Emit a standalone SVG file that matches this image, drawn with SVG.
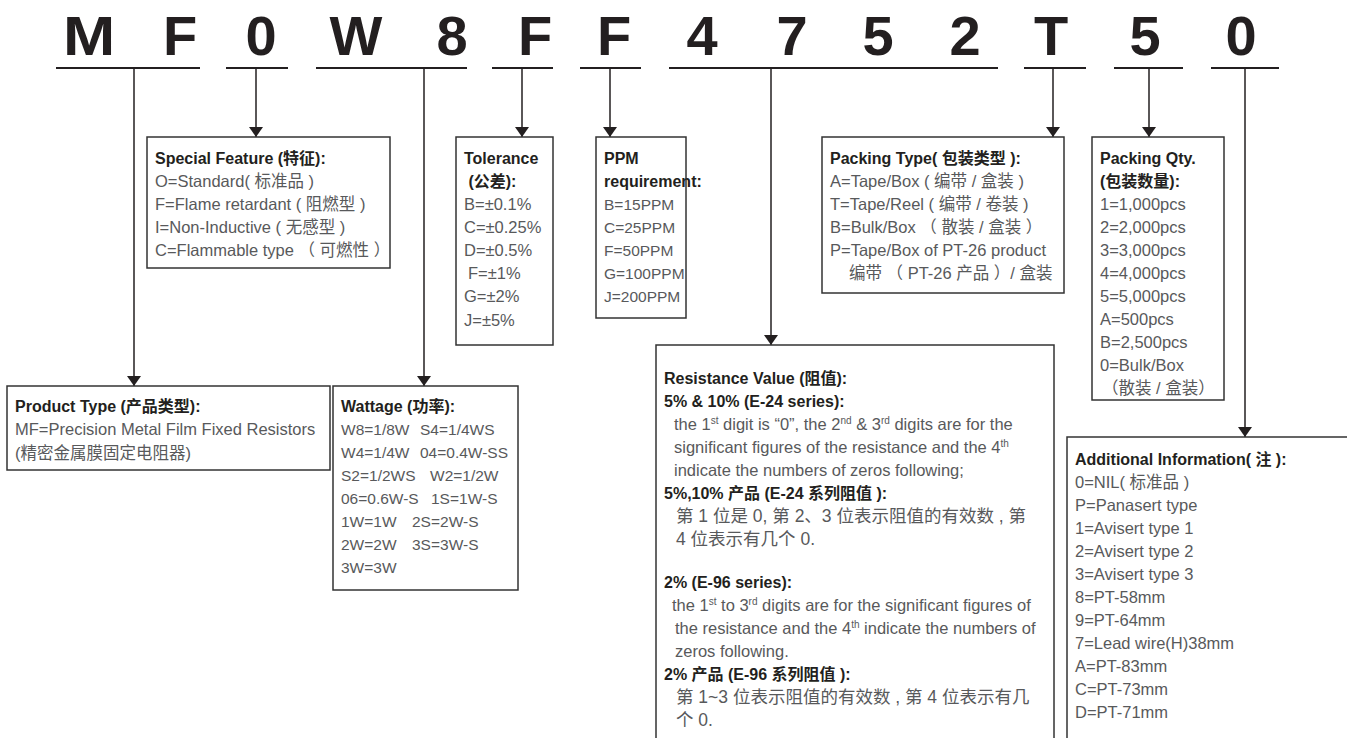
<svg xmlns="http://www.w3.org/2000/svg" width="1347" height="738" viewBox="0 0 1347 738">
<style>
.code{font-family:"Liberation Sans",Arial,sans-serif;font-weight:bold;font-size:56px;fill:#231f20;text-anchor:middle}
.ul{stroke:#231f20;stroke-width:2;fill:none}
.ln{stroke:#231f20;stroke-width:1.5;fill:none}
.box{fill:#fff;stroke:#333;stroke-width:1.5}
.t{font-family:"Liberation Sans","Noto Sans CJK SC",sans-serif;font-size:16px;fill:#231f20;font-weight:bold}
.b{font-family:"Liberation Sans","Noto Sans CJK SC",sans-serif;font-size:16.5px;fill:#58595b}
.n{font-size:15.5px}
.cj{font-size:17.5px}
.sup{font-size:10px}
</style>
<defs>
<marker id="ah" viewBox="0 0 10 14" refX="10" refY="7" markerWidth="10" markerHeight="14" markerUnits="userSpaceOnUse" orient="auto">
<path d="M0,0 L10,7 L0,14 Z" fill="#231f20"/>
</marker>
</defs>
<g id="code">
<text class="code" transform="translate(89,55) scale(1.12,1)" x="0" y="0">M</text>
<text class="code" x="180" y="55">F</text>
<text class="code" x="261" y="55">0</text>
<text class="code" x="356" y="55">W</text>
<text class="code" x="452" y="55">8</text>
<text class="code" x="535" y="55">F</text>
<text class="code" x="614" y="55">F</text>
<text class="code" x="702" y="55">4</text>
<text class="code" x="792" y="55">7</text>
<text class="code" x="878" y="55">5</text>
<text class="code" x="965" y="55">2</text>
<text class="code" x="1051" y="55">T</text>
<text class="code" x="1145" y="55">5</text>
<text class="code" x="1241" y="55">0</text>
</g>
<g id="connectors">
<path class="ul" d="M56,68H200M226,68H288M316,68H467M492,68H553M580,68H641M669,68H998M1024,68H1086M1114,68H1183M1211,68H1279"/>
<path class="ln" marker-end="url(#ah)" d="M134,68V386"/>
<path class="ln" marker-end="url(#ah)" d="M256,68V137"/>
<path class="ln" marker-end="url(#ah)" d="M424,68V386"/>
<path class="ln" marker-end="url(#ah)" d="M522,68V137"/>
<path class="ln" marker-end="url(#ah)" d="M610,68V137"/>
<path class="ln" marker-end="url(#ah)" d="M771,68V345"/>
<path class="ln" marker-end="url(#ah)" d="M1053,68V137"/>
<path class="ln" marker-end="url(#ah)" d="M1149,68V137"/>
<path class="ln" marker-end="url(#ah)" d="M1245,68V437"/>
</g>
<g id="special-feature">
<rect class="box" x="147" y="137" width="243" height="131"/>
<text class="t" x="155" y="164">Special Feature (特征):</text>
<text class="b" x="155" y="187">O=Standard( 标准品 )</text>
<text class="b" x="155" y="210">F=Flame retardant ( 阻燃型 )</text>
<text class="b" x="155" y="233">I=Non-Inductive ( 无感型 )</text>
<text class="b" x="155" y="256">C=Flammable type （ 可燃性 ）</text>
</g>
<g id="tolerance">
<rect class="box" x="456" y="137" width="97" height="208"/>
<text class="t" x="464" y="164">Tolerance</text>
<text class="t" x="464" y="187" xml:space="preserve"> (公差):</text>
<text class="b" x="464" y="210">B=±0.1%</text>
<text class="b" x="464" y="233">C=±0.25%</text>
<text class="b" x="464" y="256">D=±0.5%</text>
<text class="b" x="468" y="279">F=±1%</text>
<text class="b" x="464" y="302">G=±2%</text>
<text class="b" x="464" y="326">J=±5%</text>
</g>
<g id="ppm">
<rect class="box" x="596" y="137" width="90" height="181"/>
<text class="t" x="604" y="164">PPM</text>
<text class="t" x="604" y="187">requirement:</text>
<text class="b n" x="604" y="210">B=15PPM</text>
<text class="b n" x="604" y="233">C=25PPM</text>
<text class="b n" x="604" y="256">F=50PPM</text>
<text class="b n" x="604" y="279">G=100PPM</text>
<text class="b n" x="604" y="302">J=200PPM</text>
</g>
<g id="packing-type">
<rect class="box" x="822" y="137" width="242" height="156"/>
<text class="t" x="830" y="164">Packing Type( 包装类型 ):</text>
<text class="b" x="830" y="187">A=Tape/Box ( 编带 / 盒装 )</text>
<text class="b" x="830" y="210">T=Tape/Reel ( 编带 / 卷装 )</text>
<text class="b" x="830" y="233">B=Bulk/Box （ 散装 / 盒装 ）</text>
<text class="b" x="830" y="256">P=Tape/Box of PT-26 product</text>
<text class="b" x="849" y="279">编带 （ PT-26 产品 ）/ 盒装</text>
</g>
<g id="packing-qty">
<rect class="box" x="1092" y="137" width="132" height="263"/>
<text class="t" x="1100" y="164">Packing Qty.</text>
<text class="t" x="1100" y="187">(包装数量):</text>
<text class="b" x="1100" y="210">1=1,000pcs</text>
<text class="b" x="1100" y="233">2=2,000pcs</text>
<text class="b" x="1100" y="256">3=3,000pcs</text>
<text class="b" x="1100" y="279">4=4,000pcs</text>
<text class="b" x="1100" y="302">5=5,000pcs</text>
<text class="b" x="1100" y="325">A=500pcs</text>
<text class="b" x="1100" y="348">B=2,500pcs</text>
<text class="b" x="1100" y="371">0=Bulk/Box</text>
<text class="b" x="1102" y="394">（散装 / 盒装）</text>
</g>
<g id="product-type">
<rect class="box" x="7" y="386" width="323" height="84"/>
<text class="t" x="15" y="412">Product Type (产品类型):</text>
<text class="b" x="15" y="435">MF=Precision Metal Film Fixed Resistors</text>
<text class="b" x="15" y="459">(精密金属膜固定电阻器)</text>
</g>
<g id="wattage">
<rect class="box" x="333" y="386" width="185" height="204"/>
<text class="t" x="341" y="412">Wattage (功率):</text>
<text class="b n" y="435"><tspan x="341">W8=1/8W</tspan><tspan x="420">S4=1/4WS</tspan></text>
<text class="b n" y="458"><tspan x="341">W4=1/4W</tspan><tspan x="420">04=0.4W-SS</tspan></text>
<text class="b n" y="481"><tspan x="341">S2=1/2WS</tspan><tspan x="430">W2=1/2W</tspan></text>
<text class="b n" y="504"><tspan x="341">06=0.6W-S</tspan><tspan x="431">1S=1W-S</tspan></text>
<text class="b n" y="527"><tspan x="341">1W=1W</tspan><tspan x="412">2S=2W-S</tspan></text>
<text class="b n" y="550"><tspan x="341">2W=2W</tspan><tspan x="412">3S=3W-S</tspan></text>
<text class="b n" x="341" y="573">3W=3W</text>
</g>
<g id="resistance-value">
<rect class="box" x="656" y="345" width="398" height="400"/>
<text class="t" x="664" y="384">Resistance Value (阻值):</text>
<text class="t" x="664" y="407">5% &amp; 10% (E-24 series):</text>
<text class="b" x="674" y="430">the 1<tspan class="sup" dy="-6">st</tspan><tspan dy="6"> digit is “0”, the 2</tspan><tspan class="sup" dy="-6">nd</tspan><tspan dy="6"> &amp; 3</tspan><tspan class="sup" dy="-6">rd</tspan><tspan dy="6"> digits are for the</tspan></text>
<text class="b" x="674" y="453">significant figures of the resistance and the 4<tspan class="sup" dy="-6">th</tspan></text>
<text class="b" x="674" y="476">indicate the numbers of zeros following;</text>
<text class="t" x="664" y="499">5%,10% 产品 (E-24 系列阻值 ):</text>
<text class="b cj" x="676" y="522">第 1 位是 0, 第 2、3 位表示阻值的有效数 , 第</text>
<text class="b cj" x="676" y="545">4 位表示有几个 0.</text>
<text class="t" x="664" y="588">2% (E-96 series):</text>
<text class="b" x="672" y="611">the 1<tspan class="sup" dy="-6">st</tspan><tspan dy="6"> to 3</tspan><tspan class="sup" dy="-6">rd</tspan><tspan dy="6"> digits are for the significant figures of</tspan></text>
<text class="b" x="675" y="634">the resistance and the 4<tspan class="sup" dy="-6">th</tspan><tspan dy="6"> indicate the numbers of</tspan></text>
<text class="b" x="675" y="657">zeros following.</text>
<text class="t" x="664" y="680">2% 产品 (E-96 系列阻值 ):</text>
<text class="b cj" x="676" y="703">第 1~3 位表示阻值的有效数 , 第 4 位表示有几</text>
<text class="b cj" x="676" y="726">个 0.</text>
</g>
<g id="additional-info">
<rect class="box" x="1067" y="437" width="290" height="310"/>
<text class="t" x="1075" y="465">Additional Information( 注 ):</text>
<text class="b" x="1075" y="488">0=NIL( 标准品 )</text>
<text class="b" x="1075" y="511">P=Panasert type</text>
<text class="b" x="1075" y="534">1=Avisert type 1</text>
<text class="b" x="1075" y="557">2=Avisert type 2</text>
<text class="b" x="1075" y="580">3=Avisert type 3</text>
<text class="b" x="1075" y="603">8=PT-58mm</text>
<text class="b" x="1075" y="626">9=PT-64mm</text>
<text class="b" x="1075" y="649">7=Lead wire(H)38mm</text>
<text class="b" x="1075" y="672">A=PT-83mm</text>
<text class="b" x="1075" y="695">C=PT-73mm</text>
<text class="b" x="1075" y="718">D=PT-71mm</text>
</g>
</svg>
